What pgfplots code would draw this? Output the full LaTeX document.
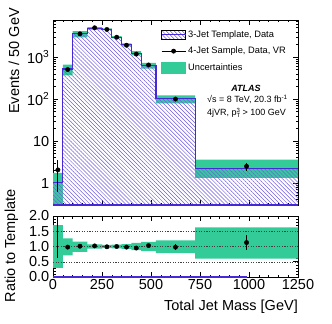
\documentclass[border=0pt]{standalone}
\usepackage{fontspec}
\setmainfont{Liberation Sans}
\usepackage{pgfplots}
\pgfplotsset{compat=1.18}
\usepgfplotslibrary{fillbetween}
\usetikzlibrary{patterns.meta}
\usepackage{pgfplotstable}

\definecolor{histcol}{RGB}{70,40,215}
\definecolor{hatchcol}{RGB}{110,90,225}
\definecolor{bandcol}{RGB}{51,204,153}

\newcommand\tickfont{\fontsize{14.5bp}{17bp}\selectfont}
\newcommand\legfont{\fontsize{9.3bp}{11bp}\selectfont}
\newcommand\atlfont{\fontsize{9bp}{11bp}\selectfont}

% template histogram: lower bin edge, content, relative uncertainty band
\pgfplotstableread{
lo    t     rlo   rhi
0     1.03  0.30  1.70
50    520   0.71  1.27
100   3600  0.82  1.16
175   4860  0.93  1.07
250   4600  0.95  1.05
300   2980  0.94  1.06
350   1960  0.92  1.08
400   1244  0.88  1.12
450   630   0.85  1.15
525   102   0.78  1.20
725   2.22  0.60  1.63
1250  2.22  0.60  1.63
}\tmpl

% 4-jet data points
\pgfplotstableread{
xc     d     de    r     re
25     2.06  1.45  2.30  1.68
75     505   22    0.98  0.04
137.5  3580  60    1.01  0.02
212.5  5000  70    1.02  0.015
275    4560  68    0.99  0.015
325    2980  55    1.00  0.02
375    1920  44    0.98  0.025
425    1180  34    0.95  0.03
487.5  650   25    1.03  0.04
625    100   10    0.98  0.10
987.5  2.5   0.55  1.13  0.24
}\data

\pgfplotsset{
  atl/.style={
    scale only axis, width=245bp,
    xmin=0, xmax=1250,
    xtick={0,250,...,1250}, minor x tick num=4,
    tick align=inside,
    major tick length=5bp, minor tick length=2.5bp,
    axis line style={line width=0.8bp},
    every tick/.style={black, line width=0.6bp},
    tick label style={font=\tickfont},
    yticklabel style={inner sep=3.5bp},
    xticklabel style={inner sep=2bp},
  },
}

\begin{document}
\begin{tikzpicture}
\begin{axis}[atl,
    at={(53bp,-20bp)}, anchor=north west,
    height=185bp,
    ymode=log, ymin=0.3, ymax=7660,
    xticklabels={},
    ytick={1,10,100,1000},
    yticklabels={1,10,10\textsuperscript{2},10\textsuperscript{3}},
    minor ytick={0.3,0.4,0.5,0.6,0.7,0.8,0.9,2,3,4,5,6,7,8,9,20,30,40,50,60,70,80,90,200,300,400,500,600,700,800,900,2000,3000,4000,5000,6000,7000},
    legend style={at={(axis description cs:0.44,0.955)}, anchor=north west,
                  draw=none, fill=none, font=\legfont, row sep=4.3bp,
                  inner sep=0pt},
    legend cell align={left},
]
\addlegendimage{legend image code/.code={
  \fill[pattern={Lines[angle=-45,distance=2.8bp,line width=0.5bp]}, pattern color=hatchcol] (0bp,-4.6bp) rectangle (24bp,4.6bp);
  \draw[histcol, line width=1.2bp] (0bp,0bp) -- (24bp,0bp);}}
\addlegendentry{3-Jet Template, Data}
\addlegendimage{black, line width=0.8bp, mark=*, mark size=2bp,
  legend image code/.code={\draw[mark repeat=2,mark phase=2] plot coordinates {(0bp,0bp) (12bp,0bp) (24bp,0bp)};}}
\addlegendentry{4-Jet Sample, Data, VR}
\addlegendimage{legend image code/.code={\fill[bandcol] (0bp,-5.3bp) rectangle (24bp,5.3bp);}}
\addlegendentry{Uncertainties}

\addplot[forget plot, draw=none, const plot mark left, name path=bhi]
  table[x=lo, y expr=\thisrow{t}*\thisrow{rhi}] {\tmpl};
\addplot[forget plot, draw=none, const plot mark left, name path=blo]
  table[x=lo, y expr=\thisrow{t}*\thisrow{rlo}] {\tmpl};
\addplot[forget plot, draw=none, const plot mark left, name path=tp]
  table[x=lo, y=t] {\tmpl};
\addplot[forget plot, draw=none, name path=bot] coordinates {(0,0.01) (1250,0.01)};

\addplot[forget plot, bandcol] fill between[of=bhi and blo];
\addplot[forget plot, pattern={Lines[angle=-45,distance=2.8bp,line width=0.5bp]}, pattern color=hatchcol]
  fill between[of=tp and bot];
\addplot[forget plot, histcol, line width=1.2bp, const plot mark left]
  table[x=lo, y=t] {\tmpl};
\addplot[forget plot, histcol, line width=1.2bp] coordinates {(0,0.3) (1250,0.3)};

\addplot[forget plot, only marks, mark=*, mark size=2.2bp, black,
  error bars/.cd, y dir=both, y explicit,
  error bar style={line width=0.9bp}, error mark=none]
  table[x=xc, y=d, y error=de] {\data};
\end{axis}

\begin{axis}[atl,
    at={(53bp,-216bp)}, anchor=north west,
    height=61bp,
    ymin=0, ymax=2,
    ytick={0,0.5,1,1.5,2},
    yticklabels={0.0,0.5,1.0,1.5,2.0},
    minor y tick num=4,
    xticklabels={0,250,500,750,1000,1250},
    clip marker paths=true,
]
\addplot[draw=none, const plot mark left, name path=rhi]
  table[x=lo, y=rhi] {\tmpl};
\addplot[draw=none, const plot mark left, name path=rlo]
  table[x=lo, y=rlo] {\tmpl};
\addplot[bandcol] fill between[of=rhi and rlo];

\draw[black!75, line width=0.5bp, dash pattern=on 1.2bp off 1.4bp] (axis cs:0,0.5) -- (axis cs:1250,0.5);
\draw[black!75, line width=0.5bp, dash pattern=on 1.2bp off 1.4bp] (axis cs:0,1) -- (axis cs:1250,1);
\draw[black!75, line width=0.5bp, dash pattern=on 1.2bp off 1.4bp] (axis cs:0,1.5) -- (axis cs:1250,1.5);

\addplot[histcol, line width=1.2bp] coordinates {(0,0) (987.5,0)};

\addplot[only marks, mark=*, mark size=2.2bp, black,
  error bars/.cd, y dir=both, y explicit,
  error bar style={line width=0.9bp}, error mark=none]
  table[x=xc, y=r, y error=re] {\data};
\end{axis}

\node[rotate=90, anchor=east, font=\tickfont, inner sep=0pt] at (14bp,-8bp) {Events / 50 GeV};
\node[rotate=90, font=\tickfont, inner sep=0pt] at (11.5bp,-246bp) {Ratio to Template};
\node[anchor=east, font=\tickfont, inner sep=0pt] at (298bp,-306.5bp) {Total Jet Mass [GeV]};

\node[font=\atlfont\bfseries\itshape, inner sep=0pt] at (246bp,-88bp) {ATLAS};
\node[anchor=west, font=\atlfont, inner sep=0pt] at (207bp,-99.5bp) {√s = 8 TeV, 20.3 fb\textsuperscript{-1}};
\node[anchor=west, font=\atlfont, inner sep=0pt] at (207bp,-113bp)
  {4jVR, p\makebox[0pt][l]{\raisebox{-0.35ex}{\fontsize{6bp}{6bp}\selectfont T}}\raisebox{0.75ex}{\fontsize{6bp}{6bp}\selectfont 3} > 100 GeV};

\pgfresetboundingbox
\path[use as bounding box] (0bp,0bp) rectangle (332bp,-324bp);
\end{tikzpicture}
\end{document}
